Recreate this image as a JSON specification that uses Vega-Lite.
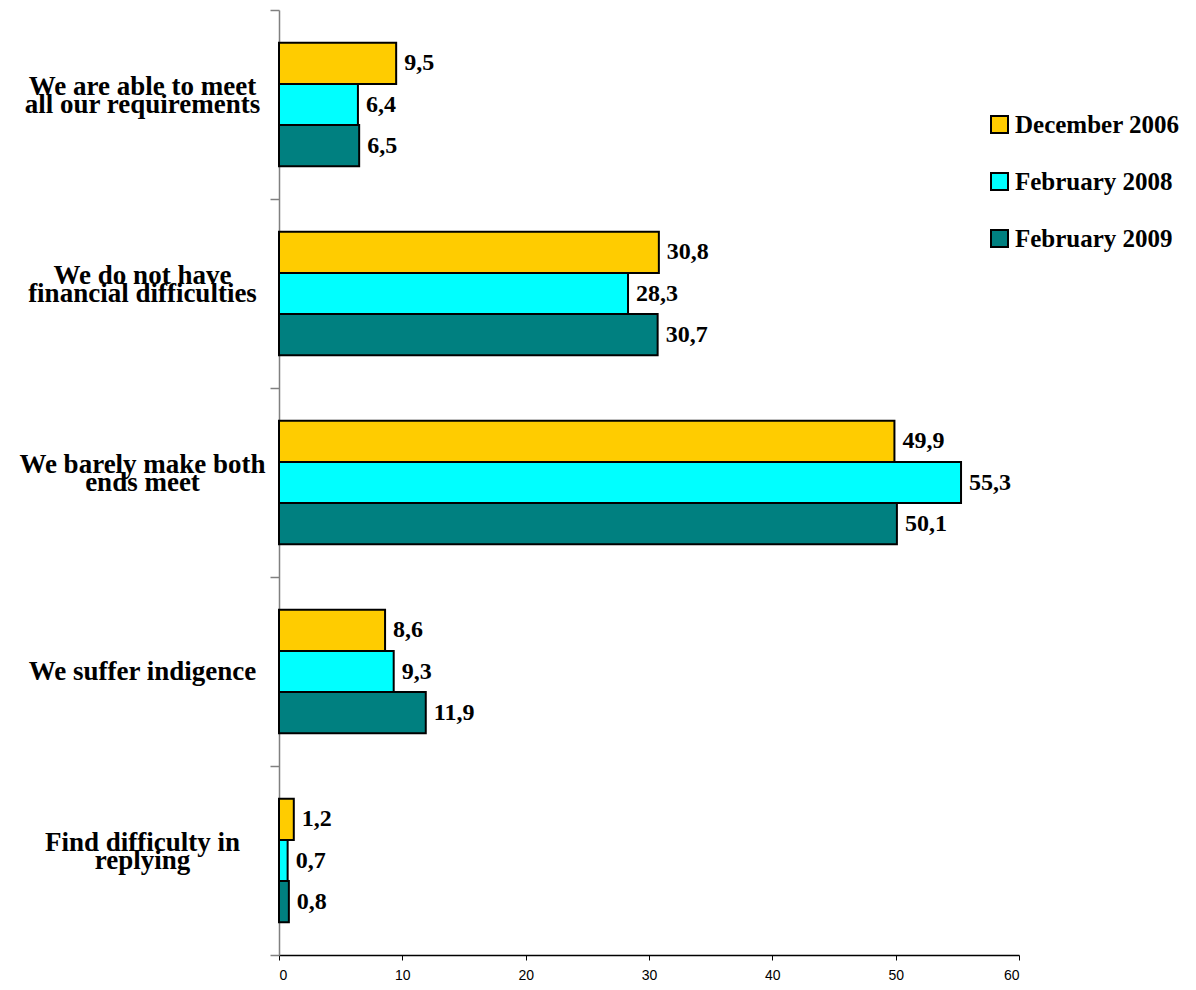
{
  "$schema": "https://vega.github.io/schema/vega-lite/v6.json",
  "width": 740,
  "height": 945,
  "autosize": {"type": "none"},
  "padding": {"left": 279, "top": 10, "right": 177, "bottom": 35},
  "background": "white",
  "config": {"view": {"stroke": null}},
  "data": {
    "values": [
      {"q": "We are able to meet|all our requirements", "period": "December 2006", "v": 9.5},
      {"q": "We are able to meet|all our requirements", "period": "February 2008", "v": 6.4},
      {"q": "We are able to meet|all our requirements", "period": "February 2009", "v": 6.5},
      {"q": "We do not have|financial difficulties", "period": "December 2006", "v": 30.8},
      {"q": "We do not have|financial difficulties", "period": "February 2008", "v": 28.3},
      {"q": "We do not have|financial difficulties", "period": "February 2009", "v": 30.7},
      {"q": "We barely make both|ends meet", "period": "December 2006", "v": 49.9},
      {"q": "We barely make both|ends meet", "period": "February 2008", "v": 55.3},
      {"q": "We barely make both|ends meet", "period": "February 2009", "v": 50.1},
      {"q": "We suffer indigence", "period": "December 2006", "v": 8.6},
      {"q": "We suffer indigence", "period": "February 2008", "v": 9.3},
      {"q": "We suffer indigence", "period": "February 2009", "v": 11.9},
      {"q": "Find difficulty in|replying", "period": "December 2006", "v": 1.2},
      {"q": "Find difficulty in|replying", "period": "February 2008", "v": 0.7},
      {"q": "Find difficulty in|replying", "period": "February 2009", "v": 0.8}
    ]
  },
  "transform": [
    {"calculate": "replace(format(datum.v, '.1f'), '.', ',')", "as": "lbl"}
  ],
  "encoding": {
    "y": {
      "field": "q",
      "type": "nominal",
      "sort": null,
      "scale": {"paddingInner": 0, "paddingOuter": 0},
      "axis": {
        "title": null,
        "labelExpr": "indexof(datum.label, '|') >= 0 ? [split(datum.label, '|')[0], '', split(datum.label, '|')[1]] : ['', datum.label]",
        "labelFont": "Liberation Serif",
        "labelFontWeight": "bold",
        "labelFontSize": 27,
        "labelColor": "black",
        "labelLineHeight": 18,
        "labelAlign": "center",
        "labelBaseline": "middle",
        "labelPadding": 128,
        "labelOffset": -18,
        "labelLimit": 0,
        "tickBand": "extent",
        "tickSize": 9,
        "tickColor": "#808080",
        "tickWidth": 1.5,
        "domainColor": "#808080",
        "domainWidth": 1.5
      }
    },
    "yOffset": {
      "field": "period",
      "type": "nominal",
      "sort": ["December 2006", "February 2008", "February 2009"],
      "scale": {"paddingInner": 0, "paddingOuter": 0.8}
    },
    "x": {
      "field": "v",
      "type": "quantitative",
      "scale": {"domain": [0, 60], "nice": false},
      "axis": {
        "title": null,
        "values": [0, 10, 20, 30, 40, 50, 60],
        "grid": false,
        "labelFont": "Liberation Sans",
        "labelFontSize": 14,
        "labelColor": "black",
        "labelPadding": 8,
        "tickSize": 5,
        "tickColor": "black",
        "domainColor": "black",
        "domainWidth": 1.5
      }
    }
  },
  "layer": [
    {
      "mark": {"type": "bar", "stroke": "black", "strokeWidth": 2},
      "encoding": {
        "color": {
          "field": "period",
          "type": "nominal",
          "scale": {
            "domain": ["December 2006", "February 2008", "February 2009"],
            "range": ["#FFCC00", "#00FFFF", "#008080"]
          },
          "legend": {
            "title": null,
            "orient": "none",
            "legendX": 708,
            "legendY": 102,
            "symbolType": "square",
            "symbolSize": 289,
            "symbolStrokeColor": "black",
            "symbolStrokeWidth": 2,
            "symbolOpacity": 1,
            "labelFont": "Liberation Serif",
            "labelFontWeight": "bold",
            "labelFontSize": 25,
            "labelColor": "black",
            "labelOffset": 3,
            "labelLimit": 0,
            "rowPadding": 31,
            "padding": 0
          }
        }
      }
    },
    {
      "mark": {
        "type": "text",
        "align": "left",
        "baseline": "middle",
        "dx": 8,
        "font": "Liberation Serif",
        "fontWeight": "bold",
        "fontSize": 24,
        "color": "black"
      },
      "encoding": {
        "text": {"field": "lbl", "type": "nominal"}
      }
    }
  ]
}
